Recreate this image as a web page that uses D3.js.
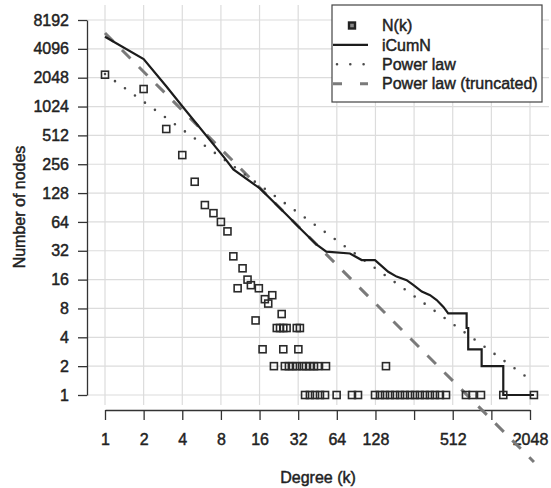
<!DOCTYPE html>
<html>
<head>
<meta charset="utf-8">
<script src="https://cdn.jsdelivr.net/npm/d3@7"></script>
<style>
  body { margin: 0; background: #fff; }
  svg { display: block; font-family: "Liberation Sans", Arial, sans-serif; }
  svg text { stroke: #222; stroke-width: 0.45px; }
</style>
</head>
<body>
<div id="chart"></div>
<script>
// N(k): number of nodes per degree
const degrees = [1, 2, 3, 4, 5, 6, 7, 8, 9, 10, 10.8, 11.8, 12.9, 13.7, 14.9, 15.8, 16.9, 17.6, 18.7, 20.1,
    20.7, 21.8, 23.1, 23.8, 24.5, 24.5, 25.2, 26, 27.1, 29.1, 31.2, 31.3, 32.1, 33,
    34.3, 36.8, 39.5, 42.5, 45.6, 52.7, 154.6,
    36.2, 39.5, 43.3, 47.3, 51.8, 63.8, 84, 93.6,
    127, 139, 152, 166, 182, 199, 217, 238, 260, 284, 311, 340, 372, 407, 454,
    649, 732, 850, 1268, 2198];
const counts = [2200, 1560, 597, 319, 168, 96, 79, 64, 51, 28, 13, 21, 16, 14, 6, 13, 3, 10, 9, 11,
    2, 5, 5, 7, 5, 3, 2, 5, 2, 2, 5, 2, 3, 5,
    2, 2, 2, 2, 2, 2, 2,
    1, 1, 1, 1, 1, 1, 1, 1,
    1, 1, 1, 1, 1, 1, 1, 1, 1, 1, 1, 1, 1, 1, 1,
    1, 1, 1, 1, 1];

// iCumN line
const cumDegrees = [1, 2, 3, 4, 8.5, 10, 16.1, 26, 33, 44.6, 53, 81, 100, 127, 161, 187, 224, 252, 294, 341, 384, 433, 472,
    657, 657, 676, 676, 860, 860, 1268, 1268, 2198];
const cumCounts = [5480, 3210, 1670, 1030, 300, 226, 143, 76, 55, 37, 31.3, 30, 25.6, 25.6, 19.3, 17.2, 15.8, 14.1, 12, 11, 9.8, 8.3, 7.1,
    7.1, 5, 5, 3, 3, 2, 2, 1, 1];

// fitted power laws (end points)
const powerDegrees = [1, 2198];
const powerCounts = [2240, 1.36];
const truncDegrees = [1, 2198];
const truncCounts = [5990, 0.2];

const xTicks = [1, 2, 4, 8, 16, 32, 64, 128, 256, 512, 1024, 2048];
const xTickLabels = ["1", "2", "4", "8", "16", "32", "64", "128", "", "512", "", "2048"];
const yTicks = [1, 2, 4, 8, 16, 32, 64, 128, 256, 512, 1024, 2048, 4096, 8192];

const legendLabels = ["N(k)", "iCumN", "Power law", "Power law (truncated)"];

const width = 551, height = 488;
const plotLeft = 87, plotRight = 549, plotTop = 5, plotBottom = 405;
const textColor = "#222";

const svg = d3.select("#chart").append("svg")
    .attr("width", width)
    .attr("height", height);

const x = d3.scaleLog().base(2).domain([1, 2048]).range([105, 530]);
const y = d3.scaleLog().base(2).domain([1, 8192]).range([395, 20]);

// grid
svg.append("g")
    .selectAll("line")
    .data(xTicks)
    .join("line")
        .attr("x1", d => x(d)).attr("x2", d => x(d))
        .attr("y1", plotTop).attr("y2", plotBottom)
        .attr("stroke", "#dcdcdc")
        .attr("stroke-width", 1.2);

svg.append("g")
    .selectAll("line")
    .data(yTicks)
    .join("line")
        .attr("x1", plotLeft).attr("x2", plotRight)
        .attr("y1", d => y(d)).attr("y2", d => y(d))
        .attr("stroke", "#dcdcdc")
        .attr("stroke-width", 1.2);

// axes
const xAxis = d3.axisBottom(x)
    .tickValues(xTicks)
    .tickFormat((d, i) => xTickLabels[i])
    .tickSize(10)
    .tickSizeOuter(0)
    .tickPadding(14);

const gx = svg.append("g")
    .attr("transform", "translate(0, 410)")
    .call(xAxis);

const yAxis = d3.axisLeft(y)
    .tickValues(yTicks)
    .tickFormat(d3.format("d"))
    .tickSize(9)
    .tickSizeOuter(0)
    .tickPadding(9);

const gy = svg.append("g")
    .attr("transform", `translate(${plotLeft}, 0)`)
    .call(yAxis);

[gx, gy].forEach(g => {
    g.select(".domain").attr("stroke", "#333").attr("stroke-width", 1.3);
    g.selectAll(".tick line").attr("stroke", "#333").attr("stroke-width", 1.3);
    g.selectAll(".tick text")
        .attr("fill", textColor)
        .style("font-size", "16px")
        .style("font-family", "'Liberation Sans', Arial, sans-serif");
});

// axis titles
svg.append("text")
    .attr("x", 318)
    .attr("y", 483)
    .attr("text-anchor", "middle")
    .attr("fill", textColor)
    .style("font-size", "16px")
    .text("Degree (k)");

svg.append("text")
    .attr("transform", "translate(25, 207) rotate(-90)")
    .attr("text-anchor", "middle")
    .attr("fill", textColor)
    .style("font-size", "16px")
    .text("Number of nodes");

// lines
const line = d3.line()
    .x(d => x(d[0]))
    .y(d => y(d[1]));

svg.append("path")
    .datum(d3.zip(truncDegrees, truncCounts))
    .attr("d", line)
    .attr("fill", "none")
    .attr("stroke", "#7a7a7a")
    .attr("stroke-width", 3)
    .attr("stroke-dasharray", "12 12");

svg.append("path")
    .datum(d3.zip(powerDegrees, powerCounts))
    .attr("d", line)
    .attr("fill", "none")
    .attr("stroke", "#4a4a4a")
    .attr("stroke-width", 2.6)
    .attr("stroke-linecap", "round")
    .attr("stroke-dasharray", "0 12.3");

svg.append("path")
    .datum(d3.zip(cumDegrees, cumCounts))
    .attr("d", line)
    .attr("fill", "none")
    .attr("stroke", "#1c1c1c")
    .attr("stroke-width", 2.2);

// N(k) squares
const sq = 7;
svg.append("g")
    .selectAll("rect")
    .data(d3.zip(degrees, counts))
    .join("rect")
        .attr("x", d => x(d[0]) - sq / 2)
        .attr("y", d => y(d[1]) - sq / 2)
        .attr("width", sq)
        .attr("height", sq)
        .attr("fill", "none")
        .attr("stroke", "#2a2a2a")
        .attr("stroke-width", 1.6);

// legend
const legend = svg.append("g");
legend.append("rect")
    .attr("x", 332).attr("y", 5)
    .attr("width", 210).attr("height", 97)
    .attr("fill", "#fff")
    .attr("stroke", "#444")
    .attr("stroke-width", 1.2);

const rowY = i => 25.5 + i * 19.4;

legend.selectAll("text")
    .data(legendLabels)
    .join("text")
        .attr("x", 382)
        .attr("y", (d, i) => rowY(i) + 5.7)
        .attr("fill", textColor)
        .style("font-size", "16px")
        .text(d => d);

legend.append("rect")
    .attr("x", 349).attr("y", rowY(0) - 3)
    .attr("width", 6).attr("height", 6)
    .attr("fill", "#888")
    .attr("stroke", "#222")
    .attr("stroke-width", 2.4);

legend.append("line")
    .attr("x1", 333).attr("x2", 368)
    .attr("y1", rowY(1)).attr("y2", rowY(1))
    .attr("stroke", "#1c1c1c").attr("stroke-width", 2.2);

legend.append("line")
    .attr("x1", 337).attr("x2", 368)
    .attr("y1", rowY(2)).attr("y2", rowY(2))
    .attr("stroke", "#4a4a4a").attr("stroke-width", 2.6)
    .attr("stroke-linecap", "round")
    .attr("stroke-dasharray", "0 13.3");

legend.append("line")
    .attr("x1", 333).attr("x2", 368)
    .attr("y1", rowY(3)).attr("y2", rowY(3))
    .attr("stroke", "#7a7a7a").attr("stroke-width", 3)
    .attr("stroke-dasharray", "9 18");
</script>
</body>
</html>
